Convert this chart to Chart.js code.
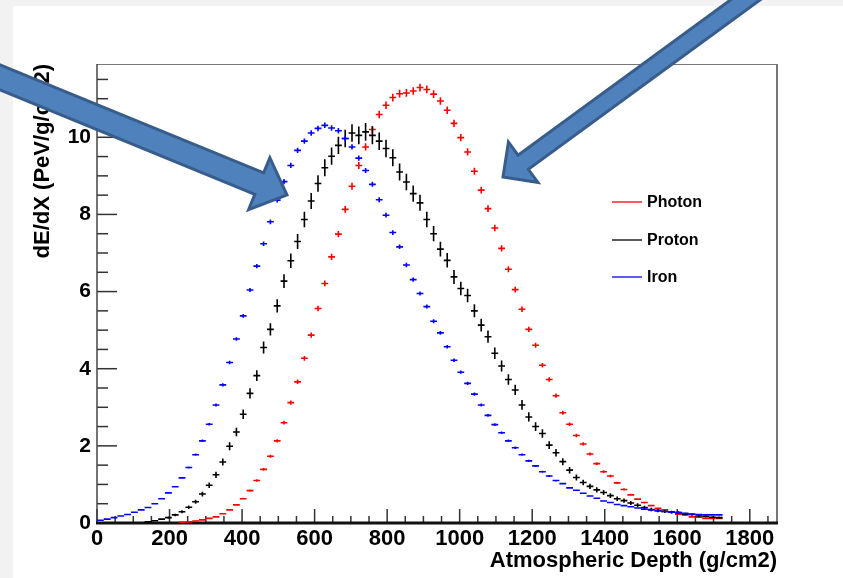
<!DOCTYPE html>
<html lang="en">
<head>
<meta charset="UTF-8">
<title>dE/dX vs Atmospheric Depth</title>
<script src="https://cdn.jsdelivr.net/npm/chart.js"></script>
<style>
    html, body { margin: 0; padding: 0; background: #f2f2f2; }
    #sheet { position: absolute; left: 13px; top: 6px; width: 830px; height: 572px; background: #fff; }
    #myChart { position: absolute; left: 0; top: 0; }
</style>
</head>
<body>
<div id="sheet"></div>
<canvas id="myChart" width="843" height="578"></canvas>
<script>
// histogram: 100 bins from 0 to 1875 g/cm2
var xMin = 0;
var xMax = 1875;
var nBins = 100;
var yMax = 11.9;

var xTickLabels = [0, 200, 400, 600, 800, 1000, 1200, 1400, 1600, 1800];
var yTickLabels = [0, 2, 4, 6, 8, 10];

var seriesNames = ['Photon', 'Proton', 'Iron'];
var seriesColors = ['#ff0000', '#000000', '#0000ff'];

var photon = [null, null, null, null, null, null, null, null, null, null, null, null,
    0.02, 0.03, 0.05, 0.08, 0.12, 0.16, 0.24, 0.34, 0.47, 0.63, 0.84, 1.10, 1.39, 1.73,
    2.13, 2.60, 3.12, 3.66, 4.27, 4.87, 5.56, 6.21, 6.90, 7.49, 8.13, 8.73, 9.27, 9.75,
    10.20, 10.59, 10.83, 11.03, 11.13, 11.15, 11.20, 11.29, 11.24, 11.12, 10.94, 10.70,
    10.36, 9.99, 9.62, 9.12, 8.63, 8.15, 7.65, 7.12, 6.58, 6.05, 5.54, 5.02, 4.61, 4.09,
    3.72, 3.30, 2.86, 2.56, 2.27, 2.05, 1.79, 1.54, 1.33, 1.22, 1.04, 0.87, 0.73, 0.62,
    0.53, 0.45, 0.38, 0.34, 0.29, 0.23, 0.21, 0.16, 0.15, 0.12, 0.12, 0.12];

var proton = [null, null, null, null, null, null, null,
    0.03, 0.06, 0.10, 0.14, 0.21, 0.29, 0.41, 0.55, 0.75, 0.98, 1.25, 1.58, 1.99, 2.36,
    2.82, 3.36, 3.82, 4.55, 5.02, 5.63, 6.27, 6.80, 7.30, 7.87, 8.35, 8.80, 9.21, 9.51,
    9.79, 9.97, 10.11, 10.05, 10.14, 10.05, 9.90, 9.71, 9.47, 9.10, 8.84, 8.54, 8.30,
    7.87, 7.50, 7.10, 6.81, 6.38, 6.08, 5.90, 5.50, 5.13, 4.83, 4.40, 4.07, 3.72, 3.45,
    3.06, 2.75, 2.50, 2.32, 2.02, 1.82, 1.59, 1.37, 1.18, 1.05, 0.95, 0.86, 0.79, 0.71,
    0.63, 0.58, 0.52, 0.46, 0.40, 0.35, 0.32, 0.30, 0.28, 0.27, 0.23, 0.22, 0.18, 0.17,
    0.15, 0.14];

var iron = [0.07, 0.10, 0.14, 0.18, 0.22, 0.28, 0.34, 0.40, 0.50, 0.63, 0.78, 0.94, 1.17,
    1.44, 1.77, 2.13, 2.56, 3.06, 3.58, 4.16, 4.77, 5.37, 6.04, 6.66, 7.24, 7.81, 8.37,
    8.85, 9.27, 9.66, 9.90, 10.11, 10.23, 10.31, 10.24, 10.17, 9.97, 9.75, 9.46, 9.14,
    8.78, 8.38, 7.98, 7.53, 7.16, 6.69, 6.31, 5.95, 5.61, 5.23, 4.93, 4.57, 4.22, 3.91,
    3.62, 3.34, 3.06, 2.79, 2.55, 2.34, 2.13, 1.95, 1.77, 1.61, 1.48, 1.33, 1.22, 1.10,
    1.02, 0.91, 0.85, 0.77, 0.70, 0.64, 0.57, 0.53, 0.48, 0.45, 0.42, 0.39, 0.36, 0.34,
    0.32, 0.30, 0.28, 0.27, 0.25, 0.23, 0.22, 0.21, 0.21, 0.21];

// size of the vertical error bar, as k * sqrt(content)
var errScale = [0.03, 0.072, 0.022];

var binWidth = (xMax - xMin) / nBins;

function toPoints(values) {
    return values.map((v, i) => ({ x: xMin + (i + 0.5) * binWidth, y: v }));
}

var fontFamily = '"Liberation Sans", Arial, Helvetica, sans-serif';
Chart.defaults.font.family = fontFamily;
Chart.defaults.color = '#000';

// error bar crosses, ROOT "E" style
var errorBars = {
    id: 'errorBars',
    afterDatasetsDraw(chart) {
        var ctx = chart.ctx;
        var xs = chart.scales.x, ys = chart.scales.y;
        var area = chart.chartArea;
        ctx.save();
        ctx.beginPath();
        ctx.rect(area.left, area.top, area.right - area.left, area.bottom - area.top);
        ctx.clip();
        chart.data.datasets.forEach((ds, k) => {
            ctx.strokeStyle = ds.borderColor;
            ctx.lineWidth = 1.6;
            ds.data.forEach(p => {
                if (p.y == null) return;
                var e = errScale[k] * Math.sqrt(p.y);
                var x0 = xs.getPixelForValue(p.x - binWidth / 2);
                var x1 = xs.getPixelForValue(p.x + binWidth / 2);
                var xc = xs.getPixelForValue(p.x);
                var yc = ys.getPixelForValue(p.y);
                ctx.beginPath();
                ctx.moveTo(x0, yc);
                ctx.lineTo(x1, yc);
                ctx.moveTo(xc, ys.getPixelForValue(p.y - e));
                ctx.lineTo(xc, ys.getPixelForValue(p.y + e));
                ctx.stroke();
            });
        });
        ctx.restore();
    }
};

// frame and inward ticks
var frameTicks = {
    id: 'frameTicks',
    beforeDatasetsDraw(chart) {
        var ctx = chart.ctx;
        var xs = chart.scales.x, ys = chart.scales.y;
        var a = chart.chartArea;
        ctx.save();
        ctx.strokeStyle = '#777';
        ctx.lineWidth = 1;
        ctx.beginPath();
        ctx.moveTo(a.left, a.top + 0.5);
        ctx.lineTo(a.right, a.top + 0.5);
        ctx.stroke();
        ctx.lineWidth = 2;
        ctx.beginPath();
        ctx.moveTo(a.right, a.top);
        ctx.lineTo(a.right, a.bottom);
        ctx.stroke();

        ctx.strokeStyle = '#333';
        ctx.lineWidth = 1.5;
        for (var v = 0; v <= yMax; v += 0.5) {
            var py = ys.getPixelForValue(v);
            var len = (v % 2 === 0) ? 20 : 11;
            ctx.beginPath();
            ctx.moveTo(a.left, py);
            ctx.lineTo(a.left + len, py);
            ctx.stroke();
        }
        for (var u = 0; u <= xMax; u += 50) {
            var px = xs.getPixelForValue(u);
            var l = (u % 200 === 0) ? 14 : 7;
            ctx.beginPath();
            ctx.moveTo(px, a.bottom);
            ctx.lineTo(px, a.bottom - l);
            ctx.stroke();
        }
        ctx.strokeStyle = '#444';
        ctx.lineWidth = 1.5;
        ctx.beginPath();
        ctx.moveTo(a.left, a.top);
        ctx.lineTo(a.left, a.bottom);
        ctx.stroke();
        ctx.strokeStyle = '#111';
        ctx.lineWidth = 3;
        ctx.beginPath();
        ctx.moveTo(a.left - 1, a.bottom);
        ctx.lineTo(a.right + 1, a.bottom);
        ctx.stroke();
        ctx.restore();
    }
};

// legend box on the right and the two arrows pasted over the plot
function blockArrow(ctx, tail, tip, shaftHalf, headLen, headHalf) {
    var dx = tip[0] - tail[0], dy = tip[1] - tail[1];
    var len = Math.hypot(dx, dy);
    var ux = dx / len, uy = dy / len, nx = -uy, ny = ux;
    var bx = tip[0] - ux * headLen, by = tip[1] - uy * headLen;
    ctx.beginPath();
    ctx.moveTo(tail[0] + nx * shaftHalf, tail[1] + ny * shaftHalf);
    ctx.lineTo(bx + nx * shaftHalf, by + ny * shaftHalf);
    ctx.lineTo(bx + nx * headHalf, by + ny * headHalf);
    ctx.lineTo(tip[0], tip[1]);
    ctx.lineTo(bx - nx * headHalf, by - ny * headHalf);
    ctx.lineTo(bx - nx * shaftHalf, by - ny * shaftHalf);
    ctx.lineTo(tail[0] - nx * shaftHalf, tail[1] - ny * shaftHalf);
    ctx.closePath();
    ctx.fillStyle = '#4f81bd';
    ctx.fill();
    ctx.strokeStyle = '#385d8a';
    ctx.lineWidth = 3;
    ctx.lineJoin = 'miter';
    ctx.stroke();
}

var overlay = {
    id: 'overlay',
    afterDraw(chart) {
        var ctx = chart.ctx;
        ctx.save();
        var legendY = [202, 240, 277];
        ctx.font = 'bold 16px ' + fontFamily;
        ctx.textBaseline = 'middle';
        chart.data.datasets.forEach((ds, k) => {
            ctx.strokeStyle = ds.borderColor;
            ctx.lineWidth = 1.3;
            ctx.beginPath();
            ctx.moveTo(612, legendY[k]);
            ctx.lineTo(642, legendY[k]);
            ctx.stroke();
            ctx.fillStyle = '#000';
            ctx.fillText(ds.label, 647, legendY[k] + 1);
        });
        blockArrow(ctx, [-46, 58.6], [287, 195], 11.6, 30, 28);
        blockArrow(ctx, [778, -24], [503, 177], 8.7, 25, 25);
        ctx.restore();
    }
};

var ctx = document.getElementById('myChart').getContext('2d');
var myChart = new Chart(ctx, {
    type: 'scatter',
    data: {
        datasets: [photon, proton, iron].map((vals, k) => ({
            label: seriesNames[k],
            data: toPoints(vals),
            borderColor: seriesColors[k],
            backgroundColor: seriesColors[k],
            pointRadius: 0,
            showLine: false
        }))
    },
    options: {
        responsive: false,
        animation: false,
        devicePixelRatio: 1,
        layout: { padding: { top: 64, right: 66, bottom: 0, left: 0 } },
        plugins: {
            legend: { display: false },
            tooltip: { enabled: false }
        },
        scales: {
            x: {
                type: 'linear',
                min: xMin,
                max: xMax,
                grid: { display: false, drawTicks: false },
                border: { display: false },
                afterBuildTicks(scale) {
                    scale.ticks = xTickLabels.map(v => ({ value: v }));
                },
                afterFit(scale) { scale.height = 55; },
                ticks: {
                    padding: 3,
                    maxRotation: 0,
                    autoSkip: false,
                    font: { size: 22, weight: 'bold' },
                    callback: v => String(v)
                },
                title: {
                    display: true,
                    text: 'Atmospheric Depth (g/cm2)',
                    align: 'end',
                    font: { size: 22, weight: 'bold' },
                    padding: { top: 0, bottom: 4 }
                }
            },
            y: {
                type: 'linear',
                min: 0,
                max: yMax,
                grid: { display: false, drawTicks: false },
                border: { display: false },
                afterBuildTicks(scale) {
                    scale.ticks = yTickLabels.map(v => ({ value: v }));
                },
                afterFit(scale) { scale.width = 97; },
                ticks: {
                    padding: 6,
                    autoSkip: false,
                    font: { size: 21, weight: 'bold' },
                    callback: v => String(v)
                },
                title: {
                    display: true,
                    text: 'dE/dX (PeV/g/cm2)',
                    align: 'end',
                    font: { size: 22, weight: 'bold' },
                    padding: { top: 30, bottom: 0 }
                }
            }
        }
    },
    plugins: [frameTicks, errorBars, overlay]
});
</script>
</body>
</html>
